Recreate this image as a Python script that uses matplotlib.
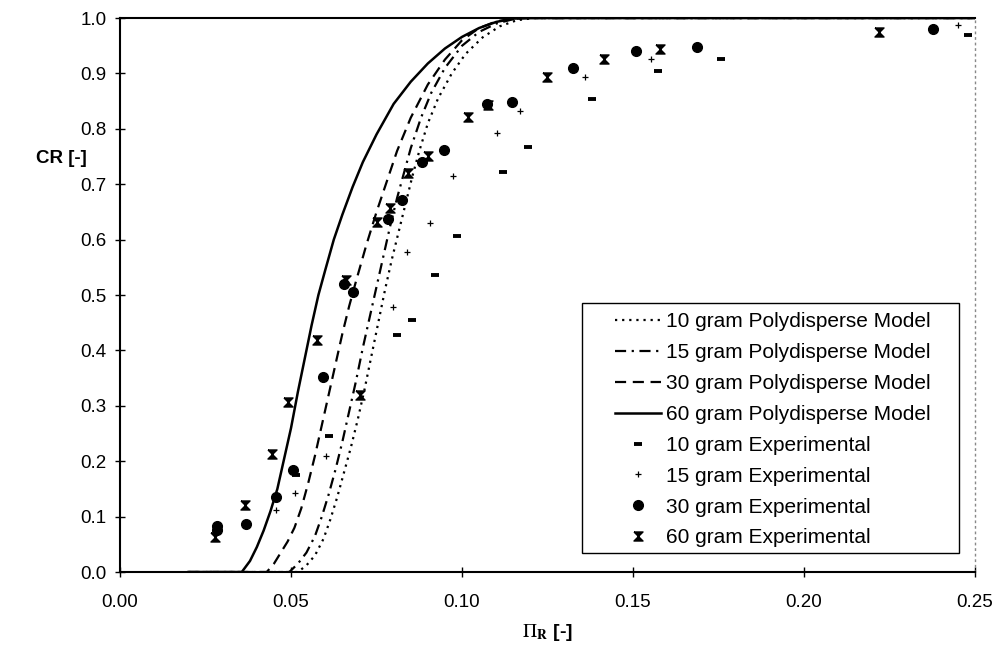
import matplotlib.pyplot as plt
from matplotlib.patches import Rectangle

plt.rcParams['font.family'] = ['Liberation Sans', 'DejaVu Sans']
plt.rcParams['mathtext.fontset'] = 'stix'

# model curves (x = Pi_R, y = CR)
m10_x = [0.020, 0.0520, 0.0545, 0.0570, 0.0595, 0.0615, 0.0635, 0.0655, 0.0675, 0.0695,
         0.0715, 0.0735, 0.0755, 0.0775, 0.0795, 0.0815, 0.0835, 0.0855, 0.0875, 0.0900,
         0.0930, 0.0970, 0.1010, 0.1060, 0.1110, 0.1160, 0.1210, 0.250]
m10_y = [0.0, 0.0, 0.012, 0.030, 0.060, 0.095, 0.135, 0.180, 0.225, 0.275,
         0.330, 0.390, 0.450, 0.510, 0.565, 0.615, 0.665, 0.715, 0.760, 0.810,
         0.855, 0.900, 0.935, 0.965, 0.985, 0.996, 1.0, 1.0]

m15_x = [0.020, 0.0495, 0.0520, 0.0545, 0.0570, 0.0590, 0.0610, 0.0630, 0.0650, 0.0670,
         0.0690, 0.0710, 0.0730, 0.0750, 0.0770, 0.0790, 0.0810, 0.0830, 0.0850, 0.0880,
         0.0910, 0.0950, 0.1000, 0.1050, 0.1100, 0.1150, 0.1200, 0.250]
m15_y = [0.0, 0.0, 0.015, 0.035, 0.065, 0.100, 0.140, 0.185, 0.235, 0.290,
         0.345, 0.405, 0.460, 0.515, 0.570, 0.625, 0.675, 0.720, 0.765, 0.820,
         0.865, 0.910, 0.950, 0.975, 0.990, 0.998, 1.0, 1.0]

m30_x = [0.020, 0.0429, 0.0450, 0.0470, 0.0490, 0.0510, 0.0530, 0.0550, 0.0570, 0.0590,
         0.0610, 0.0630, 0.0650, 0.0670, 0.0690, 0.0720, 0.0750, 0.0780, 0.0810, 0.0850,
         0.0900, 0.0950, 0.1000, 0.1050, 0.1100, 0.1150, 0.1200, 0.250]
m30_y = [0.0, 0.0, 0.015, 0.035, 0.055, 0.080, 0.115, 0.160, 0.210, 0.265,
         0.320, 0.375, 0.430, 0.480, 0.525, 0.590, 0.650, 0.705, 0.760, 0.820,
         0.880, 0.925, 0.960, 0.982, 0.994, 0.999, 1.0, 1.0]

m60_x = [0.020, 0.0356, 0.0380, 0.0400, 0.0420, 0.0440, 0.0460, 0.0480, 0.0500, 0.0520,
         0.0540, 0.0560, 0.0580, 0.0600, 0.0625, 0.0650, 0.0680, 0.0710, 0.0750, 0.0800,
         0.0850, 0.0900, 0.0950, 0.1000, 0.1050, 0.1100, 0.1150, 0.1200, 0.250]
m60_y = [0.0, 0.0, 0.020, 0.045, 0.075, 0.110, 0.150, 0.205, 0.260, 0.325,
         0.385, 0.445, 0.500, 0.545, 0.600, 0.645, 0.695, 0.740, 0.790, 0.845,
         0.885, 0.918, 0.945, 0.966, 0.982, 0.993, 0.999, 1.0, 1.0]

# experimental points
e10_x = [0.0515, 0.0612, 0.0810, 0.0853, 0.0921, 0.0986, 0.1119, 0.1193, 0.1380, 0.1573, 0.1756, 0.2480]
e10_y = [0.175, 0.245, 0.428, 0.455, 0.536, 0.607, 0.722, 0.768, 0.854, 0.905, 0.926, 0.969]

e15_x = [0.0456, 0.0512, 0.0602, 0.0798, 0.0840, 0.0906, 0.0974, 0.1101, 0.1170, 0.1360, 0.1553, 0.2450]
e15_y = [0.112, 0.142, 0.209, 0.479, 0.578, 0.630, 0.714, 0.793, 0.833, 0.893, 0.926, 0.987]

e30_x = [0.0283, 0.0283, 0.0368, 0.0456, 0.0505, 0.0594, 0.0655, 0.0682, 0.0784, 0.0824,
         0.0882, 0.0947, 0.1072, 0.1145, 0.1325, 0.1508, 0.1686, 0.2378]
e30_y = [0.076, 0.083, 0.087, 0.136, 0.184, 0.352, 0.520, 0.506, 0.637, 0.672,
         0.741, 0.762, 0.845, 0.849, 0.910, 0.940, 0.948, 0.980]

e60_x = [0.0278, 0.0365, 0.0443, 0.0492, 0.0575, 0.0660, 0.0702, 0.0750, 0.0789, 0.0842,
         0.0901, 0.1018, 0.1076, 0.1248, 0.1415, 0.1579, 0.2220]
e60_y = [0.064, 0.121, 0.213, 0.307, 0.419, 0.527, 0.320, 0.632, 0.657, 0.720,
         0.751, 0.822, 0.843, 0.894, 0.926, 0.944, 0.975]

x_ticks = [0.00, 0.05, 0.10, 0.15, 0.20, 0.25]
x_ticklabels = ['0.00', '0.05', '0.10', '0.15', '0.20', '0.25']
y_ticks = [0.0, 0.1, 0.2, 0.3, 0.4, 0.5, 0.6, 0.7, 0.8, 0.9, 1.0]
y_ticklabels = ['0.0', '0.1', '0.2', '0.3', '0.4', '0.5', '0.6', '0.7', '0.8', '0.9', '1.0']

hourglass = [(-1, 1), (1, 1), (-1, -1), (1, -1), (-1, 1)]

fig = plt.figure(figsize=(9.96, 6.56), dpi=100)
ax = fig.add_axes([0.1205, 0.128, 0.8585, 0.8445])

ax.plot(m10_x, m10_y, color='black', lw=1.6, linestyle=(0, (1, 2.2)), label='10 gram Polydisperse Model')
ax.plot(m15_x, m15_y, color='black', lw=1.6, linestyle=(0, (5, 2.5, 1, 2.5)), label='15 gram Polydisperse Model')
ax.plot(m30_x, m30_y, color='black', lw=1.6, linestyle=(0, (5, 3)), label='30 gram Polydisperse Model')
ax.plot(m60_x, m60_y, color='black', lw=1.8, linestyle='-', label='60 gram Polydisperse Model')

ax.plot(e10_x, e10_y, linestyle='none', marker='_', ms=5.5, mew=2.8, color='black', label='10 gram Experimental')
ax.plot(e15_x, e15_y, linestyle='none', marker='+', ms=4, mew=0.9, color='black', label='15 gram Experimental')
ax.plot(e30_x, e30_y, linestyle='none', marker='o', ms=7, color='black', label='30 gram Experimental')
ax.plot(e60_x, e60_y, linestyle='none', marker=hourglass, ms=6.5, color='black', label='60 gram Experimental')

ax.set_xlim(0, 0.25)
ax.set_ylim(0, 1.0)
ax.set_xticks(x_ticks)
ax.set_xticklabels(x_ticklabels)
ax.set_yticks(y_ticks)
ax.set_yticklabels(y_ticklabels)
ax.tick_params(direction='inout', length=7, width=1, labelsize=13.5)
ax.tick_params(axis='x', pad=12)
ax.tick_params(axis='y', pad=6)

for s in ['left', 'bottom', 'top']:
    ax.spines[s].set_linewidth(1.5)
ax.spines['right'].set_linestyle((0, (1, 3)))
ax.spines['right'].set_color('#888888')
ax.spines['right'].set_linewidth(1)

ax.set_xlabel(r'$\Pi_{\mathbf{R}}$ [-]', fontsize=14, fontweight='bold', labelpad=8)
ax.set_ylabel('CR [-]', fontsize=13.5, fontweight='bold', rotation=0, va='center', ha='center')
ax.yaxis.set_label_coords(-0.069, 0.747)

# legend frame drawn separately (wide side padding as in the original)
ax.add_patch(Rectangle((0.540, 0.034), 0.441, 0.452, transform=ax.transAxes,
                       facecolor='white', edgecolor='black', lw=1.0, zorder=4))
leg = ax.legend(loc='center left', bbox_to_anchor=(0.579, 0.2565), fontsize=15,
                frameon=False, borderpad=0, borderaxespad=0,
                handlelength=2.2, handletextpad=0.25, labelspacing=0.57)
leg.set_zorder(5)

fig.savefig('out.png', dpi=100)
